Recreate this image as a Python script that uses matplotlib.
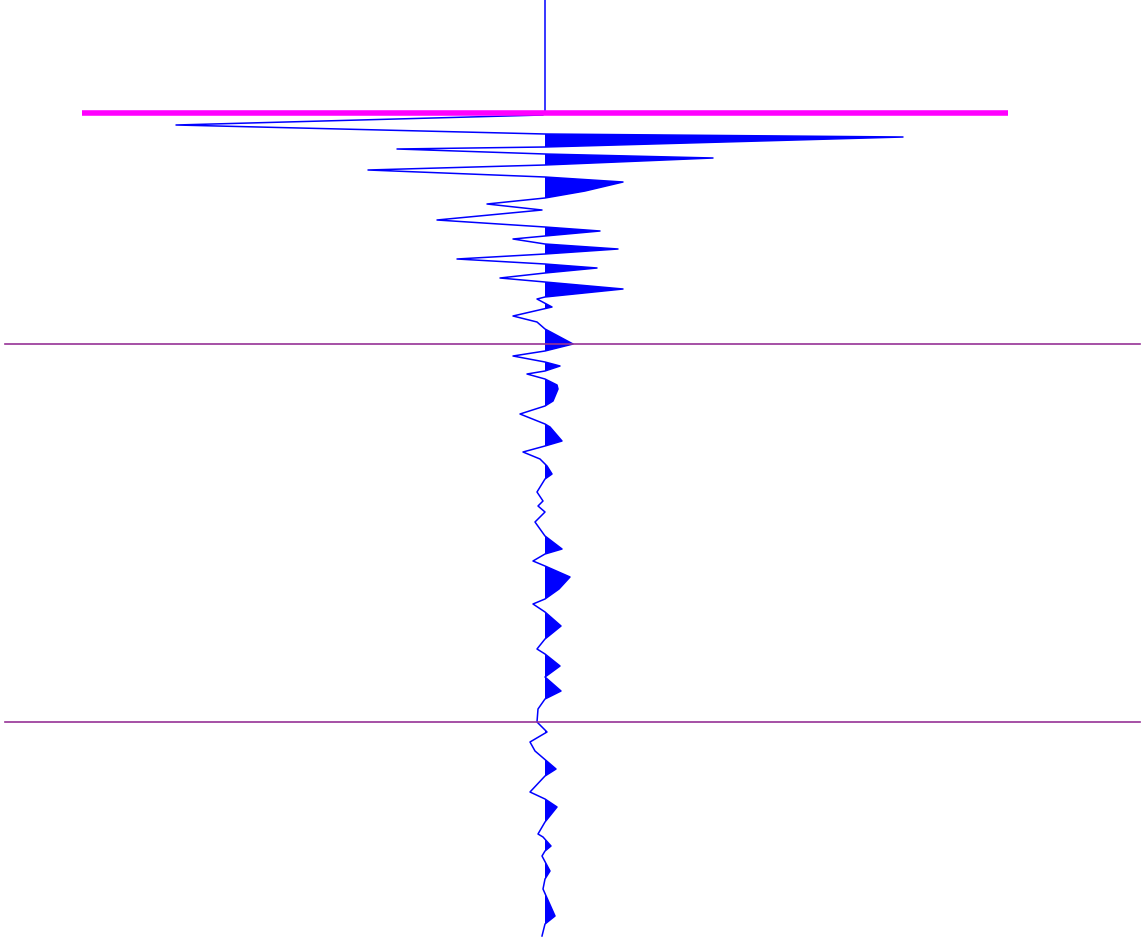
"""Single seismic trace, wiggle display with positive fill."""

import matplotlib

matplotlib.use("Agg")
import matplotlib.pyplot as plt  # noqa: E402
import numpy as np  # noqa: E402

# trace vertices: time (sample units, down) and amplitude (right = positive)
time = [
    0, 112, 116, 126, 135, 138, 148, 150, 155, 159, 166, 171, 178, 183, 192, 199,
    205, 211, 221, 228, 232, 237, 240, 245, 250, 255, 260, 265, 269, 274, 279,
    283, 290, 298, 300, 308, 317, 323, 330, 345, 352, 357, 363, 367, 372, 375,
    380, 386, 390, 402, 407, 415, 425, 428, 442, 447, 453, 460, 467, 475, 480, 493,
    502, 507, 513, 523, 537, 550, 555, 562, 567, 578, 590, 600, 605, 613, 627, 640,
    650, 655, 667, 678, 692, 700, 710, 723, 733, 743, 752, 770, 777, 793, 800,
    808, 823, 835, 838, 847, 852, 857, 872, 880, 890, 917, 925, 937,
]
amplitude = [
    0, 0, -2, -369, 0, 358, 0, -148, 0, 168, 0, -177, 0, 78, 40, 0,
    -58, -3, -108, 0, 55, 0, -32, 0, 73, 0, -88, 0, 52, 0, -45,
    0, 78, 0, -8, 7, -32, -8, 0, 28, 0, -32, 0, 15, 0, -18,
    0, 12, 13, 8, 0, -25, 0, 5, 17, 0, -22, -5, 2, 7, 0, -8,
    -2, -7, 0, -10, 0, 17, 0, -12, 0, 25, 14, 0, -12, 0, 16, 0,
    -8, 0, 15, 0, 16, 0, -7, -8, 2, -15, -10, 11, 0, -15, 0,
    12, 0, -7, -2, 6, 0, -3, 5, 0, -2, 10, 0, -3,
]

# horizons: (time, left, right)
horizon_pick = (113.5, -463, 463)
horizon_times = [345, 723]

trace_x = 545

fig = plt.figure(figsize=(11.48, 9.45), dpi=100)
ax = fig.add_axes([0, 0, 1, 1])

t = np.array(time, dtype=float)
a = np.array(amplitude, dtype=float)
ax.fill_betweenx(t, trace_x, trace_x + a, where=a > 0, interpolate=True,
                 color="#0000ff", linewidth=0)
ax.plot(trace_x + a, t, color="#0000ff", linewidth=1.1)

ax.plot([trace_x + horizon_pick[1], trace_x + horizon_pick[2]],
        [horizon_pick[0], horizon_pick[0]], color="#ff00ff", linewidth=4,
        solid_capstyle="butt")
for ht in horizon_times:
    ax.plot([5, 1140], [ht, ht], color="#963296", linewidth=1.2)

ax.set_xlim(0, 1148)
ax.set_ylim(945, 0)
ax.axis("off")

fig.savefig("out.png", dpi=100, facecolor="white")
